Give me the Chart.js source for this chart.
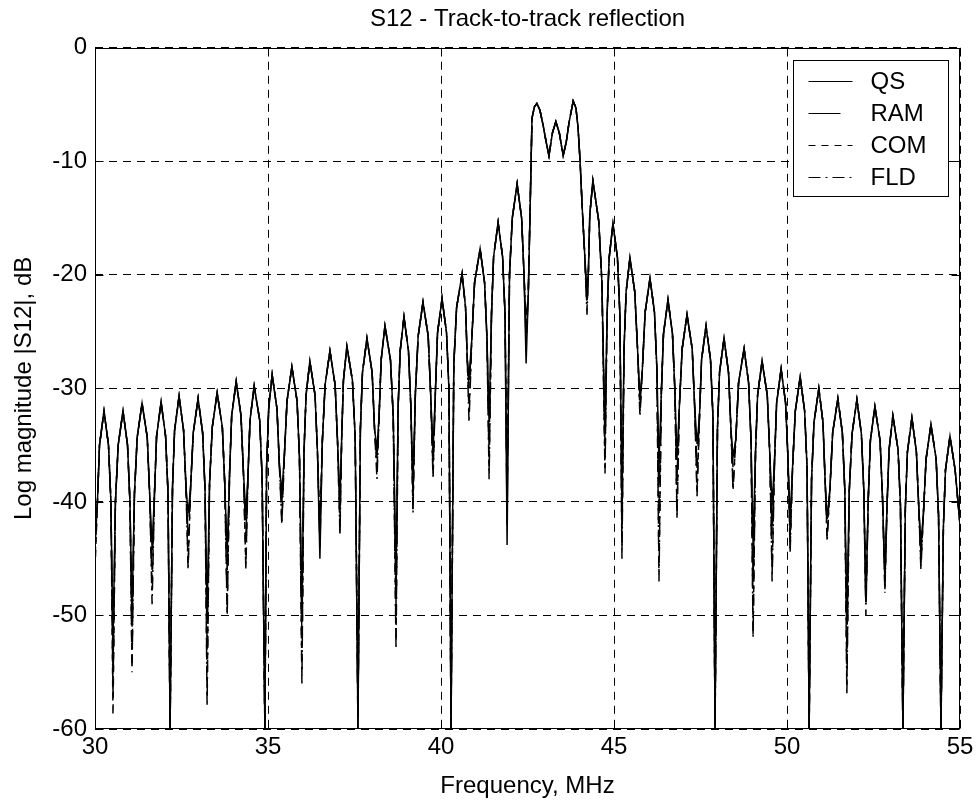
<!DOCTYPE html>
<html>
<head>
<meta charset="utf-8">
<script src="https://cdn.jsdelivr.net/npm/chart.js@4.4.1/dist/chart.umd.min.js"></script>
<style>
  html, body { margin: 0; padding: 0; background: #fff; }
  #wrap { width: 979px; height: 808px; }
</style>
</head>
<body>
<div id="wrap"><canvas id="s12Chart"></canvas></div>
<script>
// frequency grid, one row per side lobe (rising flank, peak, falling flank, dip)
const freqMHz = [
  30.00,
  30.07, 30.13, 30.26, 30.39, 30.46, 30.52,
  30.59, 30.67, 30.81, 30.94, 31.01, 31.07,
  31.14, 31.22, 31.36, 31.51, 31.58, 31.65,
  31.72, 31.78, 31.91, 32.04, 32.11, 32.17,
  32.24, 32.30, 32.43, 32.56, 32.63, 32.69,
  32.76, 32.84, 32.98, 33.11, 33.18, 33.24,
  33.31, 33.39, 33.53, 33.68, 33.75, 33.82,
  33.89, 33.95, 34.08, 34.22, 34.29, 34.36,
  34.42, 34.48, 34.60, 34.76, 34.83, 34.91,
  34.96, 35.02, 35.12, 35.26, 35.33, 35.40,
  35.47, 35.55, 35.69, 35.84, 35.91, 35.98,
  36.04, 36.10, 36.21, 36.36, 36.43, 36.50,
  36.57, 36.65, 36.79, 36.94, 37.01, 37.08,
  37.13, 37.18, 37.28, 37.44, 37.52, 37.60,
  37.67, 37.73, 37.86, 38.01, 38.08, 38.15,
  38.21, 38.27, 38.38, 38.54, 38.62, 38.70,
  38.76, 38.82, 38.93, 39.06, 39.13, 39.19,
  39.26, 39.34, 39.48, 39.63, 39.70, 39.77,
  39.84, 39.90, 40.03, 40.16, 40.23, 40.29,
  40.37, 40.45, 40.61, 40.71, 40.76, 40.81,
  40.89, 40.97, 41.13, 41.26, 41.33, 41.39,
  41.46, 41.52, 41.65, 41.78, 41.85, 41.91,
  41.98, 42.06, 42.20, 42.33, 42.40, 42.46,
  42.52, 42.57, 42.63, 42.70, 42.77, 42.86, 42.95, 43.04, 43.12, 43.22, 43.32,
  43.42, 43.53, 43.62, 43.70, 43.82, 43.90, 43.96, 44.02, 44.08, 44.15, 44.22,
  44.26, 44.30, 44.39, 44.56, 44.65, 44.74,
  44.80, 44.86, 44.97, 45.10, 45.17, 45.23,
  45.29, 45.35, 45.46, 45.60, 45.68, 45.75,
  45.82, 45.90, 46.04, 46.17, 46.24, 46.30,
  46.37, 46.43, 46.56, 46.69, 46.76, 46.82,
  46.89, 46.97, 47.11, 47.26, 47.33, 47.40,
  47.47, 47.53, 47.66, 47.79, 47.86, 47.92,
  47.99, 48.05, 48.18, 48.31, 48.38, 48.44,
  48.52, 48.60, 48.76, 48.89, 48.96, 49.02,
  49.09, 49.15, 49.28, 49.43, 49.50, 49.57,
  49.64, 49.70, 49.83, 49.96, 50.03, 50.09,
  50.16, 50.24, 50.38, 50.51, 50.58, 50.64,
  50.71, 50.78, 50.92, 51.04, 51.10, 51.16,
  51.24, 51.32, 51.47, 51.60, 51.67, 51.73,
  51.80, 51.88, 52.02, 52.15, 52.22, 52.28,
  52.35, 52.41, 52.54, 52.69, 52.76, 52.83,
  52.89, 52.95, 53.06, 53.21, 53.28, 53.35,
  53.42, 53.48, 53.61, 53.74, 53.81, 53.87,
  53.94, 54.02, 54.16, 54.31, 54.38, 54.45,
  54.52, 54.58, 54.71, 54.86, 55.00
];

// lobe levels in dB shared by all models; null = dip, depth taken from each model's list
const lobeShape = [
  null,
  -40, -35, -32, -35, -40, null,
  -40, -35, -32, -35, -40, null,
  -39.3, -34.3, -31.3, -34.3, -39.3, null,
  -39.2, -34.2, -31.2, -34.2, -39.2, null,
  -38.7, -33.7, -30.7, -33.7, -38.7, null,
  -38.9, -33.9, -30.9, -33.9, -38.9, null,
  -38.4, -33.4, -30.4, -33.4, -38.4, null,
  -37.4, -32.4, -29.4, -32.4, -37.4, null,
  -37.8, -32.8, -29.8, -32.8, -37.8, null,
  -36.8, -31.8, -28.8, -31.8, -36.8, null,
  -36.1, -31.1, -28.1, -31.1, -36.1, null,
  -35.6, -30.6, -27.6, -30.6, -35.6, null,
  -34.7, -29.7, -26.7, -29.7, -34.7, null,
  -34.3, -29.3, -26.3, -29.3, -34.3, null,
  -33.6, -28.6, -25.6, -28.6, -33.6, null,
  -32.5, -27.5, -24.5, -27.5, -32.5, null,
  -31.7, -26.7, -23.7, -26.7, -31.7, null,
  -30.4, -25.4, -22.4, -25.4, -30.4, null,
  -30.1, -25.1, -22.1, -25.1, -30.1, null,
  -27.9, -22.9, -19.9, -22.9, -27.5, null,
  -25.7, -20.7, -17.7, -20.7, -25.7, null,
  -23.4, -18.4, -15.4, -18.4, -23.4, null,
  -20, -15, -12, -15, -20, null,
  -22, -15, -6.2, -5.2, -4.9, -5.5, -6.8, -8.3, -9.5, -7.5, -6.5,
  -7.5, -9.5, -8.3, -6.6, -4.7, -5.3, -7.0, -10, -14, -18, null,
  -19.7, -14.7, -11.7, -15.3, -20.6, null,
  -23.5, -18.5, -15.5, -18.5, -23.5, null,
  -26.5, -21.5, -18.5, -21.5, -26.5, null,
  -28.3, -23.3, -20.3, -23.3, -28.3, null,
  -30.2, -25.2, -22.2, -25.2, -30.2, null,
  -31.5, -26.5, -23.5, -26.5, -31.5, null,
  -32.5, -27.5, -24.5, -27.5, -32.5, null,
  -33.6, -28.6, -25.6, -28.6, -33.6, null,
  -34.5, -29.5, -26.5, -29.5, -34.5, null,
  -35.6, -30.6, -27.6, -30.6, -35.6, null,
  -36.3, -31.3, -28.3, -31.3, -36.3, null,
  -37, -32, -29, -32, -37, null,
  -38, -33, -30, -33, -38, null,
  -38.9, -33.9, -30.9, -33.9, -38.9, null,
  -39, -34, -31, -34, -39, null,
  -39.6, -34.6, -31.6, -34.6, -39.6, null,
  -40.4, -35.4, -32.4, -35.4, -40.4, null,
  -40.6, -35.6, -32.6, -35.6, -40.6, null,
  -41.2, -36.2, -33.2, -36.2, -41.2, null,
  -42.2, -37.2, -34.2, -37.2, -42
];

// dip depths (dB) per model, in order along the frequency axis
const qsDips = [-44, -52.6, -49.7, -44, -60, -41, -50, -44.7, -41, -60, -39.1, -49.9, -45, -40, -60, -35.3, -46.9, -38.5, -35.6, -60, -29, -33, -43.8, -27.8,
  -21.7, -34, -40.3, -30.9, -36.7, -36.3, -34.9, -60, -36, -43.8, -40.3, -41.7, -60, -41.5, -50, -48.8, -46.8, -60, -43.5, -60];
const ramDips = [-43, -55, -51, -46, -60, -43, -53, -46, -43, -60, -40, -52, -44, -41, -60, -36, -49, -39.5, -36.5, -60, -30, -35, -42, -26,
  -22.5, -35, -42, -31.5, -41, -38, -37, -60, -37, -47, -43, -43, -60, -42, -53, -49, -47, -60, -44.5, -60];
const comDips = [-46, -58.8, -54.4, -47.8, -60, -45.5, -57, -49.7, -45.5, -60, -41.7, -55.4, -42, -42.6, -58, -37.2, -52.2, -40.7, -37.6, -60, -32, -37.3, -39, -25,
  -23, -37, -44.2, -32, -46.2, -40.9, -39.1, -59.7, -38.7, -51.5, -46.2, -44.1, -60, -43, -56.1, -49, -47.7, -60, -45.5, -60];
const fldDips = [-45, -57, -55, -49, -60, -46, -58, -50, -46, -60, -42, -56, -43, -43, -59, -38, -53, -41, -38, -60, -33, -38, -40, -24,
  -23.5, -37.5, -45, -32.5, -47, -41.5, -39.5, -60, -39, -52, -47, -44.5, -60, -43.5, -57, -50, -48, -60, -46, -60];

const seriesNames = ["QS", "RAM", "COM", "FLD"];
const xTicks = [30, 35, 40, 45, 50, 55];
const yTicks = [0, -10, -20, -30, -40, -50, -60];

function buildSeries(dips) {
  let k = 0;
  return freqMHz.map((f, i) => ({ x: f, y: lobeShape[i] === null ? dips[k++] : lobeShape[i] }));
}

const FONT = "'Liberation Sans', Arial, sans-serif";

// MATLAB style box, inward ticks and legend
const axesBox = {
  id: "axesBox",
  afterDraw(chart) {
    const { ctx, chartArea: a, scales } = chart;
    const L = Math.round(a.left) + 0.5, R = Math.round(a.right) - 0.5;
    const T = Math.round(a.top) + 0.5, B = Math.round(a.bottom) - 0.5;
    ctx.save();
    ctx.strokeStyle = "#000";
    ctx.lineWidth = 1;
    ctx.setLineDash([]);
    ctx.strokeRect(L, T, R - L, B - T);
    ctx.beginPath();
    xTicks.forEach((v) => {
      const x = Math.round(scales.x.getPixelForValue(v)) + 0.5;
      ctx.moveTo(x, B); ctx.lineTo(x, B - 8);
      ctx.moveTo(x, T); ctx.lineTo(x, T + 8);
    });
    yTicks.forEach((v) => {
      const y = Math.round(scales.y.getPixelForValue(v)) + 0.5;
      ctx.moveTo(L, y); ctx.lineTo(L + 8, y);
      ctx.moveTo(R, y); ctx.lineTo(R - 8, y);
    });
    ctx.stroke();

    // legend
    const bw = 155, rowH = 32;
    const bx = Math.round(a.right) - 12 - bw + 0.5;
    const by = Math.round(a.top) + 12 + 0.5;
    const bh = rowH * chart.data.datasets.length + 8;
    ctx.fillStyle = "#fff";
    ctx.fillRect(bx, by, bw, bh);
    ctx.strokeRect(bx, by, bw, bh);
    ctx.font = `24px ${FONT}`;
    ctx.textBaseline = "middle";
    ctx.fillStyle = "#000";
    chart.data.datasets.forEach((ds, i) => {
      const y = Math.round(by + 20 + i * rowH) + 0.5;
      ctx.beginPath();
      ctx.setLineDash(ds.borderDash || []);
      ctx.moveTo(bx + 15, y);
      ctx.lineTo(bx + 59, y);
      ctx.stroke();
      ctx.setLineDash([]);
      ctx.fillText(ds.label, bx + 77, y + 1);
    });
    ctx.restore();
  }
};

const dashes = [[], [32, 12], [7, 6], [12, 5, 2, 5]];
const dipLists = [qsDips, ramDips, comDips, fldDips];

new Chart(document.getElementById("s12Chart"), {
  type: "line",
  data: {
    datasets: seriesNames.map((name, i) => ({
      label: name,
      data: buildSeries(dipLists[i]),
      borderColor: "#000",
      borderWidth: 1.5,
      borderDash: dashes[i],
      pointRadius: 0,
      tension: 0,
      fill: false,
    })),
  },
  options: {
    responsive: true,
    maintainAspectRatio: false,
    animation: false,
    devicePixelRatio: 1,
    layout: { padding: { left: 0, right: 19, top: 0, bottom: 0 } },
    plugins: {
      legend: { display: false },
      tooltip: { enabled: false },
      title: {
        display: true,
        fullSize: false,
        text: "S12 - Track-to-track reflection",
        color: "#000",
        font: { family: FONT, size: 24, weight: "normal" },
        padding: { top: 5, bottom: 14 },
      },
    },
    scales: {
      x: {
        type: "linear",
        min: 30,
        max: 55,
        afterFit: (scale) => { scale.height = 79; },
        afterBuildTicks: (scale) => { scale.ticks = xTicks.map((v) => ({ value: v })); },
        ticks: { color: "#000", font: { family: FONT, size: 24 }, padding: 4, autoSkip: false, maxRotation: 0 },
        grid: { color: "#000", lineWidth: 1, drawTicks: false },
        border: { display: false, dash: [8, 6] },
        title: { display: true, text: "Frequency, MHz", color: "#000", font: { family: FONT, size: 24 }, padding: { top: 0, bottom: 7 } },
      },
      y: {
        type: "linear",
        min: -60,
        max: 0,
        afterFit: (scale) => { scale.width = 95; },
        afterBuildTicks: (scale) => { scale.ticks = yTicks.map((v) => ({ value: v })); },
        ticks: { color: "#000", font: { family: FONT, size: 24 }, padding: 8 },
        grid: { color: "#000", lineWidth: 1, drawTicks: false },
        border: { display: false, dash: [8, 6] },
        title: { display: true, text: "Log magnitude |S12|, dB", color: "#000", font: { family: FONT, size: 24 }, padding: { top: 10, bottom: 0 } },
      },
    },
  },
  plugins: [axesBox],
});
</script>
</body>
</html>
